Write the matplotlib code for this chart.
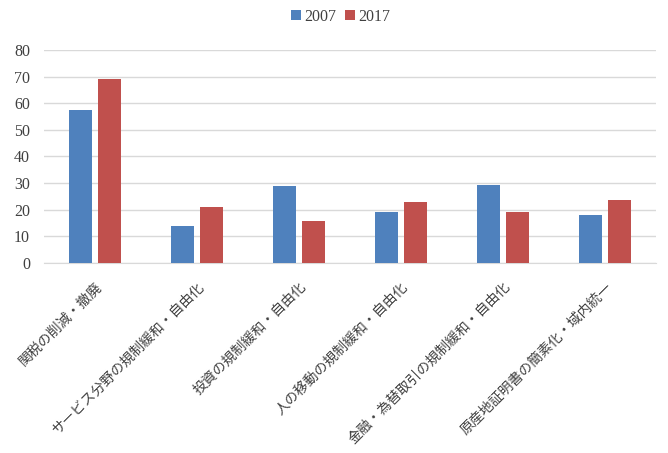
import numpy as np
import matplotlib
matplotlib.use("Agg")
import matplotlib.pyplot as plt

# values
categories = [
    "関税の削減・撤廃",
    "サービス分野の規制緩和・自由化",
    "投資の規制緩和・自由化",
    "人の移動の規制緩和・自由化",
    "金融・為替取引の規制緩和・自由化",
    "原産地証明書の簡素化・域内統一",
]
values_2007 = [57.6, 14.0, 29.0, 19.3, 29.4, 18.1]
values_2017 = [69.2, 21.1, 15.9, 23.0, 19.3, 23.8]
series_names = ["2007", "2017"]
y_ticks = [0, 10, 20, 30, 40, 50, 60, 70, 80]

BLUE = "#4F81BD"
RED = "#C0504D"
TEXT = "#404040"
GRID = "#D9D9D9"

plt.rcParams["font.family"] = ["Liberation Serif", "Noto Sans CJK JP", "DejaVu Sans"]

fig = plt.figure(figsize=(6.68, 4.53), dpi=100)
ax = fig.add_axes([44 / 668, 1 - 263 / 453, 612 / 668, 213 / 453])

x = np.arange(len(categories))
width = 0.225
offset = 0.1425
ax.bar(x - offset, values_2007, width, color=BLUE, label=series_names[0], zorder=3)
ax.bar(x + offset, values_2017, width, color=RED, label=series_names[1], zorder=3)

ax.set_xlim(-0.5, len(categories) - 0.5)
ax.set_ylim(0, 80)
ax.set_yticks(y_ticks)
ax.yaxis.grid(True, color=GRID, linewidth=1, zorder=0)
for side in ["top", "right", "left"]:
    ax.spines[side].set_visible(False)
ax.spines["bottom"].set_color(GRID)
ax.tick_params(axis="both", length=0, colors=TEXT, labelsize=11.5)
ax.tick_params(axis="y", pad=10)

ax.set_xticks(x)
ax.set_xticklabels(categories, rotation=45, ha="right", va="top",
                   rotation_mode="anchor", fontsize=10,
                   family=["Noto Sans CJK JP", "DejaVu Sans"])
ax.tick_params(axis="x", pad=12)

leg = fig.legend(loc="center", bbox_to_anchor=(0.51, 1 - 17 / 453), ncol=2,
                 frameon=False, handlelength=0.6, handleheight=0.6,
                 handletextpad=0.2, columnspacing=0.6, fontsize=11.5)
for t in leg.get_texts():
    t.set_color(TEXT)

fig.savefig("out.png", dpi=100, facecolor="white")
